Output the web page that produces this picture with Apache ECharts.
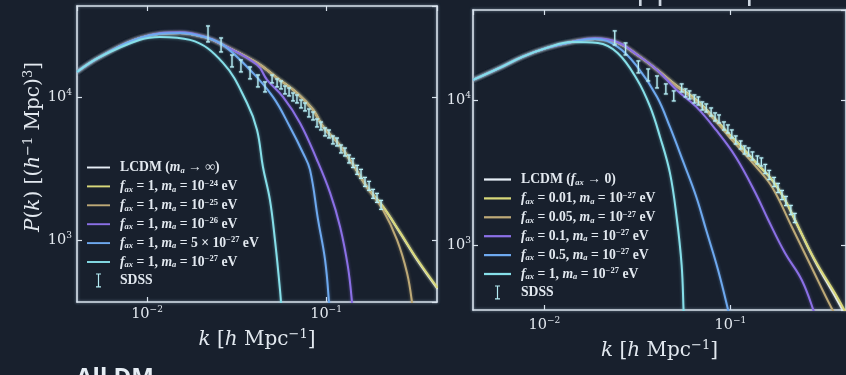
<!DOCTYPE html>
<html><head><meta charset="utf-8">
<script src="https://cdn.jsdelivr.net/npm/echarts@6/dist/echarts.min.js"></script>
<style>html,body{margin:0;padding:0;background:#18202d;}#c{width:846px;height:375px;}</style>
</head><body><div id="c"></div>
<script>
// ---------- LEFT PANEL DATA (f_ax = 1, varying m_a) ----------
const leftLcdmK = [0.00406,0.005466,0.009135,0.01530,0.02166,0.02659,0.04118,0.05330,0.06882,0.08467,0.09633,0.1152,0.1398,0.1693,0.2083,0.2593,0.3226,0.4200];
const leftLcdmP = [14960,19060,25880,28050,25880,23120,17300,13580,10670,8110,6166,4842,3451,2350,1702,1119,724,454];
const leftM24P  = [14960,19060,25880,28050,25880,23120,17300,13580,10670,8110,6166,4842,3451,2350,1710,1130,735,462];
const leftM25K  = [0.00406,0.005466,0.009135,0.01530,0.02166,0.02659,0.04118,0.05330,0.06882,0.08467,0.09633,0.1152,0.1398,0.1693,0.2083,0.2493,0.2836,0.3025,0.3183];
const leftM25P  = [14960,19060,25880,28050,25880,23120,17300,13580,10670,8110,6166,4842,3451,2350,1622,1000,587,363,200];
const leftM26K  = [0.00406,0.005466,0.009135,0.01530,0.02166,0.02659,0.04118,0.04685,0.05750,0.07157,0.08907,0.1054,0.1199,0.1326,0.1398,0.1452];
const leftM26P  = [14960,19060,25880,28300,26100,23120,16800,13150,10000,6577,3622,2133,1233,647,363,200];
const leftM5x27K = [0.00406,0.005466,0.009135,0.01530,0.02166,0.02659,0.03765,0.05055,0.06291,0.07442,0.08142,0.09031,0.0988,0.1039,0.1066];
const leftM5x27P = [14960,19060,25880,28050,25880,23120,15450,10000,6166,4055,3090,1380,724,363,200];
const leftM27K  = [0.00406,0.005466,0.009135,0.01183,0.01740,0.02659,0.03620,0.04118,0.04443,0.04861,0.05185,0.05466,0.05607,0.05750];
const leftM27P  = [14960,19060,25120,26300,25060,17300,9078,5875,3236,1905,1000,525,363,200];
const leftSdssK = [0.02192,0.02593,0.02984,0.03348,0.03765,0.04166,0.04564,0.04997,0.05330,0.05607,0.05899,0.06219,0.06543,0.06882,0.07256,0.07633,0.08030,0.08467,0.08907,0.09370,0.0988,0.1039,0.1093,0.1152,0.1212,0.1276,0.1345,0.1415,0.1492,0.1569,0.1651,0.1740,0.1832,0.1927,0.2031];
const leftSdssP = [27580,23100,17850,16480,14720,12940,11750,13360,12530,12130,11190,10840,10000,9683,8933,8511,7727,7362,6577,6266,5692,5508,5003,4842,4327,4121,3683,3451,3090,2897,2545,2388,2099,1968,1758];
const leftSdssErr = [0.137,0.119,0.101,0.101,0.101,0.101,0.084,0.066,0.066,0.066,0.066,0.066,0.066,0.066,0.066,0.066,0.066,0.066,0.066,0.066,0.066,0.066,0.066,0.066,0.066,0.066,0.066,0.075,0.075,0.075,0.075,0.075,0.075,0.075,0.075];

// ---------- RIGHT PANEL DATA (m_a = 1e-27 eV, varying f_ax) ----------
const rightLcdmK = [0.00413,0.005741,0.007603,0.01030,0.01400,0.01871,0.02477,0.03162,0.04036,0.05140,0.06561,0.08375,0.09817,0.1164,0.1365,0.1679,0.1968,0.2223,0.2831,0.3750,0.4345];
const rightLcdmP = [13740,16630,19820,22860,25120,26360,24720,20420,16110,12500,10000,7278,5834,4667,3733,2805,2042,1487,789,418,294];
const rightF001P = [13740,16630,19820,22860,25120,26360,24720,20420,16110,12500,10000,7278,5834,4667,3733,2805,2042,1500,800,440,310];
const rightF005K = [0.00413,0.005741,0.007603,0.01030,0.01400,0.01871,0.02477,0.03162,0.04036,0.05140,0.06561,0.08375,0.09817,0.1164,0.1365,0.1679,0.2143,0.2729,0.3483,0.4083];
const rightF005P = [13740,16630,19820,22860,25120,26360,24720,20420,16110,12400,9800,7100,5600,4400,3500,2500,1330,705,373,259];
const rightF01K  = [0.00413,0.005741,0.007603,0.01030,0.01400,0.01871,0.02477,0.03162,0.04036,0.05140,0.06561,0.08375,0.1069,0.1365,0.1600,0.1968,0.2421,0.2831,0.3013];
const rightF01P  = [13740,16630,19820,22860,25120,26600,25000,20420,16110,11720,8954,6209,4046,2284,1487,881,574,340,259];
const rightF05K  = [0.00413,0.005741,0.007603,0.01030,0.01400,0.01871,0.02477,0.03162,0.04036,0.04732,0.05610,0.06561,0.07413,0.08590,0.09817,0.1030];
const rightF05P  = [13740,16630,19820,22860,25120,26360,23220,16890,10490,6516,3680,2143,1268,673,340,259];
const rightF1K   = [0.00413,0.005741,0.007603,0.01030,0.01400,0.01941,0.02477,0.03162,0.03707,0.04188,0.04732,0.05140,0.05470,0.05610,0.05675];
const rightF1P   = [13740,16630,19820,22860,25120,24720,21090,13740,8954,5559,3141,1560,728,340,239];
const rightSdssK = [0.02389,0.02732,0.03200,0.03615,0.04034,0.04500,0.04962,0.05471,0.05745,0.06031,0.06409,0.06730,0.07066,0.07419,0.07882,0.08279,0.08691,0.09238,0.09700,0.1018,0.1069,0.1136,0.1193,0.1253,0.1315,0.1398,0.1468,0.1541,0.1618,0.1719,0.1805,0.1896,0.1990,0.2115,0.2221];
const rightSdssP = [26770,22470,16890,14870,13310,11910,10660,12100,11180,10830,10160,9842,9092,8806,8264,7637,7396,6619,6310,5828,5298,4894,4521,4380,4111,3857,3737,3343,3040,2720,2473,2212,2011,1743,1536];
const rightSdssErr = [0.118,0.100,0.100,0.100,0.100,0.083,0.083,0.066,0.066,0.066,0.066,0.066,0.066,0.066,0.066,0.066,0.066,0.066,0.066,0.066,0.066,0.066,0.066,0.066,0.066,0.066,0.066,0.075,0.075,0.075,0.075,0.075,0.075,0.075,0.075];

// ---------- AXES / LABELS ----------
const leftXRange = [0.004064, 0.4169];
const leftYRange = [368, 43250];
const rightXRange = [0.00413, 0.4188];
const rightYRange = [356.5, 41690];
const xTickExps = [-2, -1];
const yTickExps = [3, 4];
const leftIds = ['L1','L2','L3','L4','L5','L6','L7'];
const leftLegendText = [
  '{p| }{b|LCDM (}{i|m}{sub|a}{b| → ∞)}',
  '{p| }{i|f}{sub|ax}{b| = 1, }{i|m}{sub|a}{b| = 10}{sup|−24}{b| eV}',
  '{p| }{i|f}{sub|ax}{b| = 1, }{i|m}{sub|a}{b| = 10}{sup|−25}{b| eV}',
  '{p| }{i|f}{sub|ax}{b| = 1, }{i|m}{sub|a}{b| = 10}{sup|−26}{b| eV}',
  '{p| }{i|f}{sub|ax}{b| = 1, }{i|m}{sub|a}{b| = 5 × 10}{sup|−27}{b| eV}',
  '{p| }{i|f}{sub|ax}{b| = 1, }{i|m}{sub|a}{b| = 10}{sup|−27}{b| eV}',
  '{p| }{b|SDSS}'
];
const rightIds = ['R1','R2','R3','R4','R5','R6','R7'];
const rightLegendText = [
  '{p| }{b|LCDM (}{i|f}{sub|ax}{b| → 0)}',
  '{p| }{i|f}{sub|ax}{b| = 0.01, }{i|m}{sub|a}{b| = 10}{sup|−27}{b| eV}',
  '{p| }{i|f}{sub|ax}{b| = 0.05, }{i|m}{sub|a}{b| = 10}{sup|−27}{b| eV}',
  '{p| }{i|f}{sub|ax}{b| = 0.1, }{i|m}{sub|a}{b| = 10}{sup|−27}{b| eV}',
  '{p| }{i|f}{sub|ax}{b| = 0.5, }{i|m}{sub|a}{b| = 10}{sup|−27}{b| eV}',
  '{p| }{i|f}{sub|ax}{b| = 1, }{i|m}{sub|a}{b| = 10}{sup|−27}{b| eV}',
  '{p| }{b|SDSS}'
];
const yAxisTitle = '{i|P}{b|(}{i|k}{b|) [(}{i|h}{sup|−1}{b| Mpc)}{sup|3}{b|]}';
const xAxisTitle = '{i|k}{b| [}{i|h}{b| Mpc}{sup|−1}{b|]}';

// ---------- STYLE ----------
const C = {lcdm:'#e6eef6', yel:'#d8d87a', tan:'#bda977', pur:'#8b70e6', lb:'#6ea9ef', cy:'#86dfe9', sdss:'#b4ecf4'};
const frame = '#d8e2ec';
const txt = '#e2e8ef';
const serif = '"DejaVu Serif", serif';
const lserif = '"Liberation Serif", serif';

const legendRich = {
  p:{width:5, fontSize:12, lineHeight:15},
  b:{fontFamily:lserif, fontSize:13.7, fontWeight:'bold', color:txt, lineHeight:15},
  i:{fontFamily:lserif, fontSize:13.7, fontWeight:'bold', fontStyle:'italic', color:txt, lineHeight:15},
  sub:{fontFamily:lserif, fontSize:8.5, fontWeight:'bold', fontStyle:'italic', color:txt, lineHeight:8, verticalAlign:'bottom'},
  sup:{fontFamily:lserif, fontSize:8.5, fontWeight:'bold', color:txt, lineHeight:8, verticalAlign:'top'}
};
function bigRich(sz){
  return {
    b:{fontFamily:serif, fontSize:sz, color:txt, lineHeight:sz+4},
    i:{fontFamily:serif, fontSize:sz, fontStyle:'italic', color:txt, lineHeight:sz+4},
    sup:{fontFamily:serif, fontSize:Math.round(sz*0.65), color:txt, lineHeight:Math.round(sz*0.65), verticalAlign:'top'}
  };
}
function tickFmt(exps){
  return function(v){
    const e = Math.log10(v), r = Math.round(e);
    if (Math.abs(e - r) > 1e-6 || exps.indexOf(r) < 0) return '';
    return '{b|10}{sup|' + (r < 0 ? '−' + (-r) : r) + '}';
  };
}
function pts(K, P){ return K.map((k, i) => [k, P[i]]); }
function glow(c){ return echarts.color.modifyAlpha(c, 0.55); }
function line(id, K, P, color, panel){
  return {type:'line', name:id, xAxisIndex:panel, yAxisIndex:panel, data:pts(K, P),
    showSymbol:false, symbol:'none', smooth:0.4, clip:true, silent:true,
    lineStyle:{color:color, width:2, shadowBlur:3, shadowColor:glow(color)},
    itemStyle:{color:color}};
}
function errRender(params, api){
  const k = api.value(0), p = api.value(1), f = api.value(2);
  const top = api.coord([k, p * (1 + f)]), bot = api.coord([k, p / (1 + f)]);
  const x = top[0], c = C.sdss;
  const st = {stroke:c, lineWidth:1.3, shadowBlur:2, shadowColor:glow(c)};
  return {type:'group', children:[
    {type:'line', shape:{x1:x, y1:top[1], x2:x, y2:bot[1]}, style:st},
    {type:'line', shape:{x1:x-2, y1:top[1], x2:x+2, y2:top[1]}, style:st},
    {type:'line', shape:{x1:x-2, y1:bot[1], x2:x+2, y2:bot[1]}, style:st}
  ]};
}
function sdss(id, K, P, E, panel){
  return {type:'custom', name:id, xAxisIndex:panel, yAxisIndex:panel, clip:true, silent:true,
    data:K.map((k, i) => [k, P[i], E[i]]), encode:{x:0, y:1},
    itemStyle:{color:C.sdss}, renderItem:errRender, z:5};
}
const axLine = {show:true, lineStyle:{color:frame, width:1.6, shadowBlur:3, shadowColor:'rgba(190,215,240,0.6)'}};
const axTick = {show:true, inside:true, length:5, lineStyle:{color:frame, width:1.2}};
function xAx(grid, range, pos, labels, nameGap){
  const a = {gridIndex:grid, type:'log', logBase:10, min:range[0], max:range[1], position:pos,
    axisLine:axLine, axisTick:axTick, splitLine:{show:false}, minorTick:{show:false},
    axisLabel:{show:labels, formatter:tickFmt(xTickExps), margin:pos==='bottom' ? (grid===0?3:6) : 0,
      showMinLabel:false, showMaxLabel:false, rich:bigRich(14.5)}};
  if (labels) { a.name = xAxisTitle; a.nameLocation = 'middle'; a.nameGap = nameGap; a.nameTextStyle = {rich:bigRich(20)}; }
  return a;
}
function yAx(grid, range, pos, labels, margin){
  return {gridIndex:grid, type:'log', logBase:10, min:range[0], max:range[1], position:pos,
    axisLine:axLine, axisTick:axTick, splitLine:{show:false}, minorTick:{show:false},
    axisLabel:{show:labels, formatter:tickFmt(yTickExps), margin:margin,
      showMinLabel:false, showMaxLabel:false, rich:bigRich(14.5)}};
}
const sdssIcon = 'path://M0,0H5V1.2H3.1V12.8H5V14H0V12.8H1.9V1.2H0Z';
const lineIcon = 'path://M0,0H24V2H0Z';
function legend(ids, texts, left, top, iw){
  const map = {}; ids.forEach((id, i) => { map[id] = texts[i]; });
  return {orient:'vertical', left:left, top:top, itemWidth:iw, itemHeight:14, itemGap:3.9,
    selectedMode:false, padding:0,
    data:ids.map((id, i) => ({name:id, icon: i === ids.length - 1 ? sdssIcon : lineIcon})),
    formatter:n => map[n], textStyle:{rich:legendRich, color:txt}};
}

const yLeft = yAx(0, leftYRange, 'left', true, 5);
yLeft.name = yAxisTitle; yLeft.nameLocation = 'middle'; yLeft.nameGap = 30; yLeft.nameRotate = 90;
yLeft.nameTextStyle = {rich:bigRich(20), padding:[0,0,0,14]};

const option = {
  backgroundColor:'#18202d',
  animation:false,
  grid:[{left:77, top:6, width:360, height:296}, {left:473, top:10, width:379, height:300}],
  xAxis:[xAx(0, leftXRange, 'bottom', true, 26), xAx(1, rightXRange, 'bottom', true, 29),
         xAx(0, leftXRange, 'top', false, 0), xAx(1, rightXRange, 'top', false, 0)],
  yAxis:[yLeft, yAx(1, rightYRange, 'left', true, 2),
         yAx(0, leftYRange, 'right', false, 0), yAx(1, rightYRange, 'right', false, 0)],
  legend:[legend(leftIds, leftLegendText, 87, 160.5, 23), legend(rightIds, rightLegendText, 484, 172.5, 27)],
  series:[
    line('L1', leftLcdmK, leftLcdmP, C.lcdm, 0),
    line('L2', leftLcdmK, leftM24P, C.yel, 0),
    line('L3', leftM25K, leftM25P, C.tan, 0),
    line('L4', leftM26K, leftM26P, C.pur, 0),
    line('L5', leftM5x27K, leftM5x27P, C.lb, 0),
    line('L6', leftM27K, leftM27P, C.cy, 0),
    sdss('L7', leftSdssK, leftSdssP, leftSdssErr, 0),
    line('R1', rightLcdmK, rightLcdmP, C.lcdm, 1),
    line('R2', rightLcdmK, rightF001P, C.yel, 1),
    line('R3', rightF005K, rightF005P, C.tan, 1),
    line('R4', rightF01K, rightF01P, C.pur, 1),
    line('R5', rightF05K, rightF05P, C.lb, 1),
    line('R6', rightF1K, rightF1P, C.cy, 1),
    sdss('R7', rightSdssK, rightSdssP, rightSdssErr, 1)
  ],
  graphic:[
    {type:'text', right:6, top:-27, silent:true, style:{text:'suppress power', font:'32px "Open Sans"', fill:'#cdd6e0'}},
    {type:'text', left:76, top:366, silent:true, style:{text:'All DM', font:'bold 24px "Open Sans"', fill:'#e6edf4'}}
  ]
};
const chart = echarts.init(document.getElementById('c'), null, {renderer:'canvas'});
chart.setOption(option);
</script></body></html>
